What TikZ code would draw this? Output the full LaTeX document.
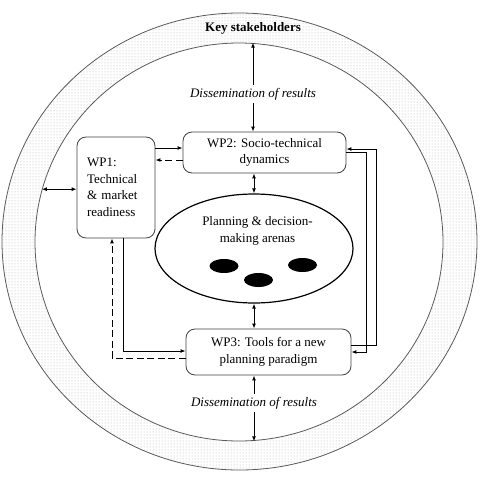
\documentclass[tikz,border=0pt]{standalone}
\usepackage{fontspec}
\setmainfont{Liberation Serif}
\usetikzlibrary{arrows.meta,shapes.geometric,patterns}

\begin{document}
\begin{tikzpicture}[x=1pt,y=-1pt,
    txt/.style={font=\fontsize{13}{16.5}\selectfont},
    wpbox/.style={txt, draw=black!75, line width=0.8pt, rounded corners=9pt, align=center},
    ring/.style={ellipse, draw=black!65, line width=0.8pt, inner sep=0pt},
    blob/.style={ellipse, fill=black, inner sep=0pt, minimum width=29, minimum height=14},
    arr/.style={-{Latex[length=5pt,width=4pt]}, line width=1pt},
    arrb/.style={{Latex[length=5pt,width=4pt]}-{Latex[length=5pt,width=4pt]}, line width=1pt},
    dsh/.style={dash pattern=on 7pt off 3.5pt}]
  \useasboundingbox (0,0) rectangle (480,480);

  % stakeholder ring
  \path[pattern=dots, pattern color=black!30, even odd rule]
    (239.5,241.5) ellipse [x radius=237.5, y radius=228.5]
    (239,242) ellipse [x radius=204, y radius=199];
  \node[ring, minimum width=475, minimum height=457] (ringout) at (239.5,241.5) {};
  \node[ring, minimum width=408, minimum height=398] (ringin) at (239,242) {};
  \node[txt, font=\fontsize{13}{16.5}\selectfont\bfseries] (keys) at (253,28) {Key stakeholders};

  % work packages
  \node[wpbox, align=left, text width=58, inner xsep=10pt, minimum height=101] (wpone) at (116,187.5)
    {WP1:\\Technical\\\& market\\readiness};
  \node[wpbox, minimum width=163, minimum height=41] (wptwo) at (264.5,152.5)
    {WP2: Socio-technical\\dynamics};
  \node[wpbox, minimum width=165, minimum height=46] (wpthree) at (268.5,352)
    {WP3: Tools for a new\\planning paradigm};

  % arenas
  \node[ellipse, draw, line width=1.2pt, minimum width=198, minimum height=109] (arena) at (254,248.5) {};
  \node[txt, align=center] (arenatxt) at (257.5,231) {Planning \& decision-\\making arenas};
  \node[blob] (bone) at (224,266) {};
  \node[blob] (btwo) at (258.5,280) {};
  \node[blob] (bthree) at (302.5,265) {};

  % dissemination
  \node[txt, font=\fontsize{13}{16.5}\selectfont\itshape, inner sep=3pt] (dtop) at (253,94) {Dissemination of results};
  \node[txt, font=\fontsize{13}{16.5}\selectfont\itshape, inner sep=3pt] (dbot) at (254,403) {Dissemination of results};

  \draw[arr] (dtop.north) -- (dtop.north |- ringin.north);
  \draw[arr] (dtop.south) -- (dtop.south |- wptwo.north);
  \draw[arr] (dbot.north) -- (dbot.north |- wpthree.south);
  \draw[arr] (dbot.south) -- (dbot.south |- ringin.south);

  % links
  \draw[arrb] (ringin.165.8) -- (ringin.165.8 -| wpone.west);
  \coordinate (sone) at ([yshift=4.5pt]wptwo.west);
  \coordinate (stwo) at ([yshift=-7.5pt]wptwo.west);
  \draw[arr] (sone -| wpone.east) -- (sone);
  \draw[arr, dsh] (stwo) -- (stwo -| wpone.east);
  \draw[arrb] (arena.north |- wptwo.south) -- (arena.north);
  \draw[arrb] (arena.south) -- (arena.south |- wpthree.north);

  \coordinate (dn) at ([xshift=7pt]wpone.south);
  \coordinate (dd) at ([yshift=-6pt]wpthree.west);
  \draw[arr] (dn) |- ([yshift=1pt]wpthree.west);
  \draw[arr, dsh] (dd) -| ([xshift=-4pt]wpone.south);

  \coordinate (rone) at ([yshift=7pt]wpthree.east);
  \coordinate (rtwo) at ([yshift=3.5pt]wptwo.east);
  \draw[arr] (rone) -- ++(25,0) |- (rtwo);
  \draw[arr] (wptwo.east) -- ++(20,0) |- (wpthree.east);
\end{tikzpicture}
\end{document}
